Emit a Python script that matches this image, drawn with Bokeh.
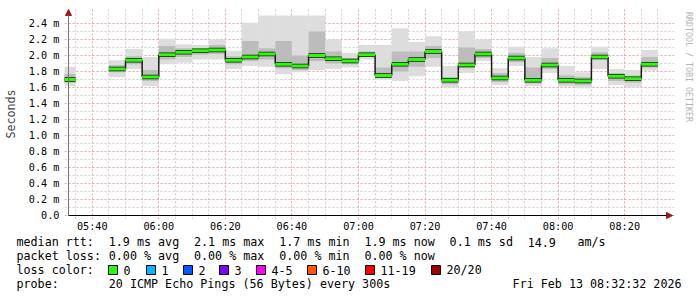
import math
from bokeh.plotting import figure
from bokeh.layouts import column, row
from bokeh.models import (Range1d, FixedTicker, Label, BoxAnnotation,
                          ColumnDataSource, Arrow, NormalHead)
from bokeh.embed import file_html
from bokeh.resources import INLINE

nan = float("nan")

# ---- data (5-minute slots, labelled by end time) ----
slot_end = ["05:35", "05:40", "05:45", "05:50", "05:55",
            "06:00", "06:05", "06:10", "06:15", "06:20", "06:25",
            "06:30", "06:35", "06:40", "06:45", "06:50", "06:55",
            "07:00", "07:05", "07:10", "07:15", "07:20", "07:25",
            "07:30", "07:35", "07:40", "07:45", "07:50", "07:55",
            "08:00", "08:05", "08:10", "08:15", "08:20", "08:25", "08:30"]
median_ms = [1.70, nan, nan, 1.83, 1.94,
             1.73, 2.01, 2.04, 2.06, 2.07, 1.94,
             1.98, 2.02, 1.89, 1.87, 2.00, 1.96,
             1.93, 2.01, 1.75, 1.89, 1.95, 2.05,
             1.69, 1.88, 2.02, 1.72, 1.97, 1.69,
             1.88, 1.69, 1.68, 1.98, 1.74, 1.71, 1.89]
smoke_hi = [1.86, nan, nan, 1.94, 2.08,
            1.98, 2.21, 2.14, 2.13, 2.20, 2.06,
            2.41, 2.50, 2.50, 2.50, 2.50, 2.20,
            2.03, 2.13, 2.13, 2.34, 2.17, 2.24,
            1.87, 2.30, 2.20, 1.84, 2.11, 1.98,
            2.09, 1.87, 1.79, 2.11, 1.83, 1.82, 2.07]
smoke_lo = [1.62, nan, nan, 1.73, 1.83,
            1.62, 1.89, 1.91, 1.95, 1.95, 1.83,
            1.87, 1.86, 1.77, 1.79, 1.82, 1.83,
            1.85, 1.95, 1.70, 1.68, 1.74, 1.86,
            1.60, 1.78, 1.93, 1.63, 1.87, 1.62,
            1.78, 1.61, 1.59, 1.83, 1.63, 1.60, 1.81]
mid_hi = [1.77, nan, nan, 1.88, 1.99,
          1.82, 2.12, 2.09, 2.09, 2.13, 1.99,
          2.18, 2.09, 2.18, 2.00, 2.30, 2.05,
          1.97, 2.05, 1.85, 2.05, 2.05, 2.12,
          1.73, 2.10, 2.08, 1.78, 2.03, 1.85,
          1.97, 1.75, 1.73, 2.04, 1.78, 1.75, 1.98]
mid_lo = [1.66, nan, nan, 1.79, 1.89,
          1.68, 1.95, 1.98, 2.01, 2.02, 1.89,
          1.93, 1.95, 1.84, 1.82, 1.93, 1.90,
          1.89, 1.98, 1.72, 1.80, 1.86, 1.97,
          1.64, 1.84, 1.97, 1.67, 1.92, 1.65,
          1.83, 1.64, 1.63, 1.95, 1.68, 1.66, 1.85]

y_ticks = [0.0, 0.2, 0.4, 0.6, 0.8, 1.0, 1.2, 1.4, 1.6, 1.8, 2.0, 2.2, 2.4]
y_tick_labels = ["0.0", "0.2 m", "0.4 m", "0.6 m", "0.8 m", "1.0 m", "1.2 m",
                 "1.4 m", "1.6 m", "1.8 m", "2.0 m", "2.2 m", "2.4 m"]
y_minor = [0.1, 0.3, 0.5, 0.7, 0.9, 1.1, 1.3, 1.5, 1.7, 1.9, 2.1, 2.3]
x_tick_labels = ["05:40", "06:00", "06:20", "06:40", "07:00", "07:20",
                 "07:40", "08:00", "08:20"]
x_minor_labels = ["05:35", "05:45", "05:50", "05:55", "06:05", "06:10", "06:15",
                  "06:25", "06:30", "06:35", "06:45", "06:50", "06:55",
                  "07:05", "07:10", "07:15", "07:25", "07:30", "07:35",
                  "07:45", "07:50", "07:55", "08:05", "08:10", "08:15",
                  "08:25", "08:30"]
view_start, view_end = "05:32:52", "08:32:52"

legend_line1 = [(0, "median rtt:"), (13, "1.9 ms avg"), (25, "2.1 ms max"),
                (37, "1.7 ms min"), (49, "1.9 ms now"), (61, "0.1 ms sd"),
                (72, "14.9"), (79, "am/s")]
legend_line2 = [(0, "packet loss:"), (13, "0.00 % avg"), (25, "0.00 % max"),
                (37, "0.00 % min"), (49, "0.00 % now")]
legend_line3 = [(0, "loss color:")]
legend_line4 = [(0, "probe:"), (13, "20 ICMP Echo Pings (56 Bytes) every 300s")]
loss_labels = ["0", "1", "2", "3", "4-5", "6-10", "11-19", "20/20"]
loss_colors = ["#26ff00", "#00b8ff", "#0059ff", "#7e00ff", "#ff00ff",
               "#ff5500", "#ff0000", "#a10000"]
loss_box_px = [108, 146, 183, 219, 256, 307, 365, 431]
date_text = "Fri Feb 13 08:32:32 2026"
watermark = "RRDTOOL / TOBI OETIKER"


def to_min(s):
    parts = [int(v) for v in s.split(":")]
    return parts[0] * 60 + parts[1] + (parts[2] / 60.0 if len(parts) > 2 else 0)


ends = [to_min(s) for s in slot_end]
starts = [e - 5 for e in ends]
ok = [not math.isnan(m) for m in median_ms]

src = ColumnDataSource(dict(
    left=[s for s, k in zip(starts, ok) if k],
    right=[e for e, k in zip(ends, ok) if k],
    med=[m for m, k in zip(median_ms, ok) if k],
    hi=[v for v, k in zip(smoke_hi, ok) if k],
    lo=[v for v, k in zip(smoke_lo, ok) if k],
    mhi=[v for v, k in zip(mid_hi, ok) if k],
    mlo=[v for v, k in zip(mid_lo, ok) if k],
))

conn = dict(x=[], y0=[], y1=[])
for i in range(len(ends) - 1):
    if ok[i] and ok[i + 1]:
        conn["x"].append(ends[i])
        conn["y0"].append(median_ms[i])
        conn["y1"].append(median_ms[i + 1])
csrc = ColumnDataSource(conn)

# ---- geometry ----
PX_PER_MIN = 600 / 180.0
PX_PER_MS = 80.0
t0, t1 = to_min(view_start), to_min(view_end)
xr0 = t0 - 4 / PX_PER_MIN          # frame starts 4px left of the y axis
xr1 = t0 + 607 / PX_PER_MIN        # room for the x-axis arrow
yr0 = -4 / PX_PER_MS               # room below 0 for the arrow head
yr1 = 207 / PX_PER_MS              # room above for the y-axis arrow

MONO = "DejaVu Sans Mono"
MAIN_H = 234

p = figure(width=680, height=MAIN_H, output_backend="svg", toolbar_location=None,
           x_range=Range1d(xr0, xr1), y_range=Range1d(yr0, yr1),
           min_border_left=63, min_border_right=6, min_border_top=8,
           min_border_bottom=MAIN_H - 219)
p.outline_line_color = None
p.background_fill_color = "white"
p.border_fill_color = "white"

xt = FixedTicker(ticks=[to_min(s) for s in x_tick_labels],
                 minor_ticks=[to_min(s) for s in x_minor_labels])
yt = FixedTicker(ticks=y_ticks, minor_ticks=y_minor)
p.xaxis.ticker = xt
p.yaxis.ticker = yt
p.xgrid.ticker = xt
p.ygrid.ticker = yt
for g in (p.xgrid, p.ygrid):
    g.grid_line_color = "#e4a4a4"
    g.grid_line_dash = "2 2"
    g.grid_line_width = 1
    g.minor_grid_line_color = "#cfcfcf"
    g.minor_grid_line_dash = "2 2"
    g.minor_grid_line_width = 1

p.xaxis.major_label_overrides = {to_min(s): s for s in x_tick_labels}
p.yaxis.major_label_overrides = dict(zip(y_ticks, y_tick_labels))
for ax in (p.xaxis, p.yaxis):
    ax.major_label_text_font = MONO
    ax.major_label_text_font_size = "10.2px"
    ax.major_label_text_color = "#000000"
    ax.minor_tick_line_color = None
    ax.axis_line_color = None
    ax.major_tick_line_color = None
    ax.major_tick_in = 0
    ax.major_tick_out = 0
p.yaxis.major_label_standoff = 1
p.xaxis.major_label_standoff = -3
p.yaxis.axis_label = "Seconds"
p.yaxis.axis_label_text_font = MONO
p.yaxis.axis_label_text_font_style = "normal"
p.yaxis.axis_label_text_font_size = "11.7px"
p.yaxis.axis_label_standoff = 8

# smoke
p.quad(left="left", right="right", bottom="lo", top="hi", source=src,
       fill_color="#dddddd", line_color=None)
p.quad(left="left", right="right", bottom="mlo", top="mhi", source=src,
       fill_color="#bcbcbc", line_color=None)
# median
p.segment(x0="left", x1="right", y0="med", y1="med", source=src,
          line_color="#1a1a1a", line_width=4.5)
p.segment(x0="x", x1="x", y0="y0", y1="y1", source=csrc,
          line_color="#1a1a1a", line_width=1.5)
p.segment(x0="left", x1="right", y0="med", y1="med", source=src,
          line_color=loss_colors[0], line_width=3)

# axis lines with arrows
p.add_layout(Arrow(x_start=t0, y_start=0, x_end=t0, y_end=yr1 - 1 / PX_PER_MS,
                   line_color="#777777", line_width=1,
                   end=NormalHead(size=6, fill_color="#a01818",
                                  line_color="#a01818")))
p.add_layout(Arrow(x_start=t0, y_start=0, x_end=xr1 - 2 / PX_PER_MIN, y_end=0,
                   line_color="#000000", line_width=1,
                   end=NormalHead(size=6, fill_color="#a01818",
                                  line_color="#a01818")))

# ---- watermark strip on the right ----
side = figure(width=17, height=MAIN_H, output_backend="svg",
              toolbar_location=None, x_range=Range1d(0, 17),
              y_range=Range1d(MAIN_H, 0), x_axis_location=None,
              y_axis_location=None, min_border=0)
side.outline_line_color = None
side.grid.visible = False
side.add_layout(Label(x=8, y=4, text=watermark, text_font=MONO,
                      text_font_size="8.3px", text_baseline="middle",
                      text_align="left", angle=-math.pi / 2,
                      text_color="#b4b4b4"))

# ---- legend block ----
LEG_H = 297 - MAIN_H
leg = figure(width=697, height=LEG_H, output_backend="svg",
             toolbar_location=None, x_range=Range1d(0, 697),
             y_range=Range1d(LEG_H, 0), x_axis_location=None,
             y_axis_location=None, min_border=0)
leg.outline_line_color = None
leg.grid.visible = False

CW = 7.1
LX = 16


def add_line(tokens, ypix):
    for col, txt in tokens:
        leg.add_layout(Label(x=LX + col * CW, y=ypix - MAIN_H, text=txt,
                             text_font=MONO, text_font_size="11.7px",
                             text_baseline="middle", text_align="left",
                             text_color="#000000"))


add_line(legend_line1, 241.5)
add_line(legend_line2, 255.5)
add_line(legend_line3, 269.5)
add_line(legend_line4, 283.5)
for bx, lab, col in zip(loss_box_px, loss_labels, loss_colors):
    leg.add_layout(BoxAnnotation(left=bx, right=bx + 9, top=265 - MAIN_H,
                                 bottom=274 - MAIN_H, fill_color=col,
                                 fill_alpha=1.0, line_color="#000000",
                                 line_width=1, line_alpha=1.0))
    leg.add_layout(Label(x=bx + 15, y=269.5 - MAIN_H, text=lab, text_font=MONO,
                         text_font_size="11.7px", text_baseline="middle",
                         text_align="left", text_color="#000000"))
leg.add_layout(Label(x=681, y=283.5 - MAIN_H, text=date_text, text_font=MONO,
                     text_font_size="11.7px", text_baseline="middle",
                     text_align="right", text_color="#000000"))

layout = column(row(p, side, spacing=0), leg, spacing=0)
open("out.html", "w").write(file_html(layout, INLINE))
